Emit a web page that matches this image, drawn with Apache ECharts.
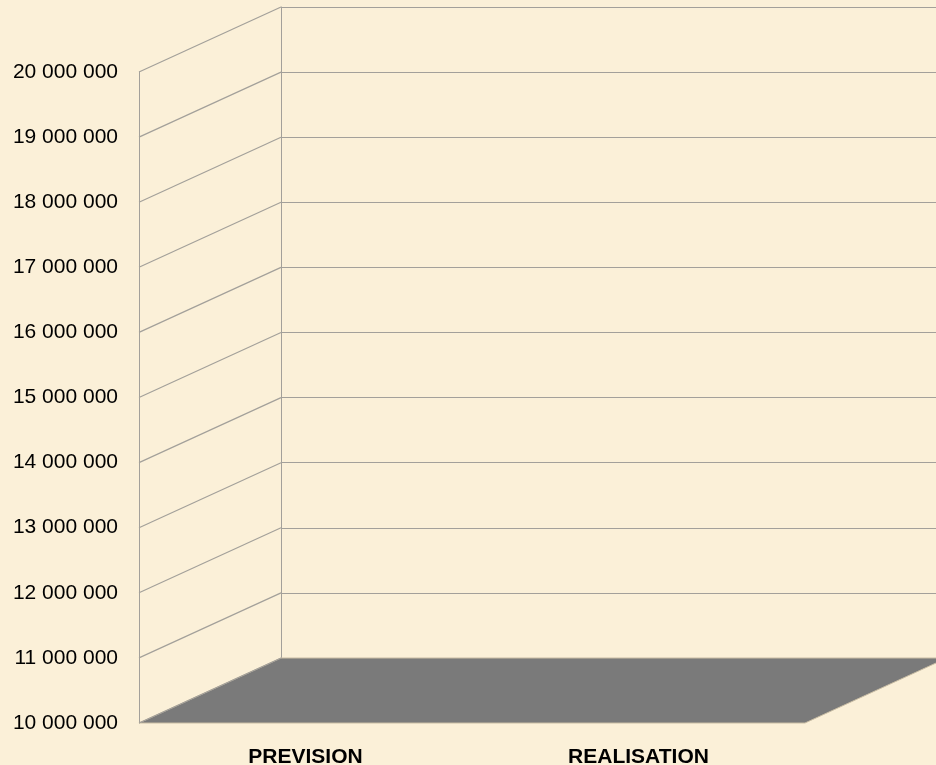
<!DOCTYPE html>
<html>
<head>
<meta charset="utf-8">
<script src="https://cdn.jsdelivr.net/npm/echarts@6/dist/echarts.min.js"></script>
<style>
  html, body { margin: 0; padding: 0; }
  #chart { width: 936px; height: 765px; background: #fbf0d8; }
</style>
</head>
<body>
<div id="chart"></div>
<script>
// categories and values (nothing is drawn above the 10 000 000 floor)
const categories = ['PREVISION', 'REALISATION'];
const values = [null, null];
const yMin = 10000000;
const yMax = 20000000;
const yStep = 1000000;
const wallTicks = [10000000, 11000000, 12000000, 13000000, 14000000, 15000000,
                   16000000, 17000000, 18000000, 19000000, 20000000];

// depth offset of the 3D box (back wall -> front)
const DX = -142, DY = 65;
const lineColor = '#a3a09a';

var chartDom = document.getElementById('chart');
var myChart = echarts.init(chartDom);

function fmt(v) {
  return String(v).replace(/\B(?=(\d{3})+(?!\d))/g, ' ');
}

var option = {
  animation: false,
  grid: [
    // front plane
    { left: 139, top: 72, width: 666, height: 651, outerBoundsMode: 'none' },
    // back wall (runs past the right edge of the picture)
    { left: 281, top: 7, width: 666, height: 651, outerBoundsMode: 'none' }
  ],
  xAxis: [{
    gridIndex: 0,
    type: 'category',
    data: categories,
    axisLine: { show: false },
    axisTick: { show: false },
    axisLabel: {
      color: '#000',
      fontFamily: 'Liberation Sans',
      fontWeight: 'bold',
      fontSize: 21,
      margin: 24
    }
  }, {
    gridIndex: 1,
    type: 'value',
    min: 0,
    max: 1,
    show: false
  }],
  yAxis: [{
    gridIndex: 0,
    type: 'value',
    min: yMin,
    max: yMax,
    interval: yStep,
    axisLine: { show: true, lineStyle: { color: lineColor, width: 1 } },
    axisTick: { show: false },
    splitLine: { show: false },
    axisLabel: {
      color: '#000',
      fontFamily: 'Liberation Sans',
      fontSize: 21,
      margin: 21,
      formatter: fmt
    }
  }, {
    gridIndex: 1,
    type: 'value',
    min: yMin,
    max: yMax,
    interval: yStep,
    axisLine: { show: true, lineStyle: { color: lineColor, width: 1 } },
    axisTick: { show: false },
    axisLabel: { show: false },
    splitLine: { show: true, lineStyle: { color: lineColor, width: 1.2 } }
  }],
  series: [
    {
      // floor of the 3D box
      type: 'custom',
      xAxisIndex: 1,
      yAxisIndex: 1,
      silent: true,
      clip: false,
      z: 1,
      data: [[0, yMin]],
      renderItem: function (params, api) {
        var a = api.coord([0, yMin]);
        var b = api.coord([1, yMin]);
        return {
          type: 'polygon',
          shape: { points: [a, b, [b[0] + DX, b[1] + DY], [a[0] + DX, a[1] + DY]] },
          style: { fill: '#7a7a7a', stroke: '#c9bda4', lineWidth: 1 }
        };
      }
    },
    {
      // side wall diagonals, one per tick
      type: 'custom',
      xAxisIndex: 1,
      yAxisIndex: 1,
      silent: true,
      clip: false,
      z: 2,
      data: wallTicks.map(function (v) { return [0, v]; }),
      renderItem: function (params, api) {
        var p = api.coord([0, api.value(1)]);
        return {
          type: 'line',
          shape: { x1: p[0], y1: p[1], x2: p[0] + DX, y2: p[1] + DY },
          style: { stroke: lineColor, lineWidth: 1.2 }
        };
      }
    },
    {
      name: 'Montant',
      type: 'bar',
      xAxisIndex: 0,
      yAxisIndex: 0,
      data: values
    }
  ]
};

option && myChart.setOption(option);
</script>
</body>
</html>
